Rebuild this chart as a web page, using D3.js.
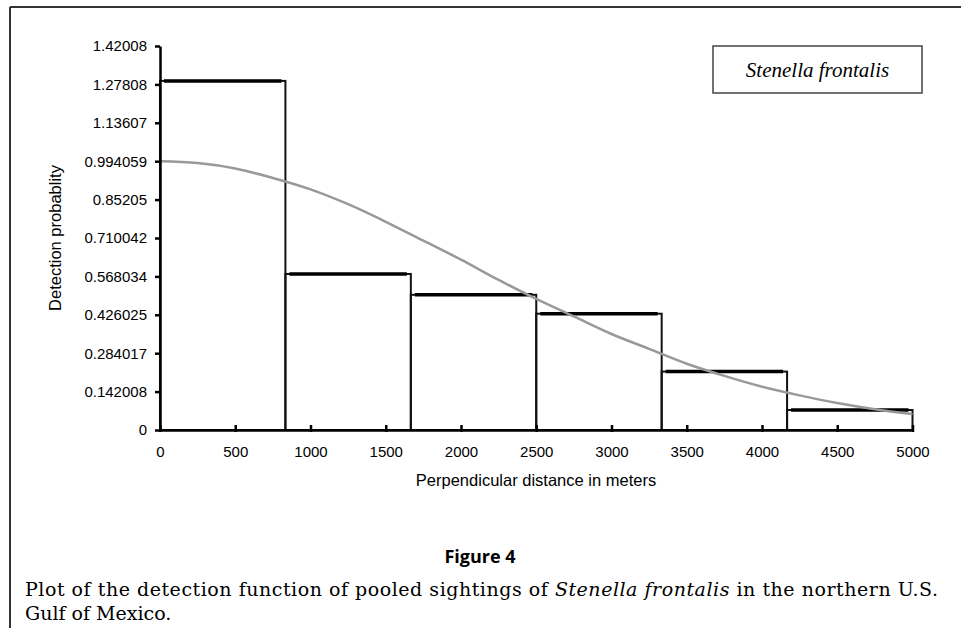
<!DOCTYPE html>
<html>
<head>
<meta charset="utf-8">
<script src="https://cdn.jsdelivr.net/npm/d3@7"></script>
<style>
  body { margin: 0; background: #fff; }
  svg { display: block; }
</style>
</head>
<body>
<div id="chart"></div>
<script>
var width = 961
var height = 628

// histogram bins (perpendicular distance, m) and scaled heights
var binEdges = [0, 833.33, 1666.67, 2500, 3333.33, 4166.67, 5000]
var binHeights = [1.291, 0.577, 0.500, 0.430, 0.216, 0.074]

// fitted detection function
var curveDist = [0, 250, 500, 750, 1000, 1250, 1500, 1750, 2000, 2250, 2500,
                 2750, 3000, 3250, 3500, 3750, 4000, 4250, 4500, 4750, 5000]
var curveProb = [0.994, 0.987, 0.967, 0.932, 0.89, 0.835, 0.77, 0.70, 0.63, 0.555, 0.485,
                 0.42, 0.355, 0.30, 0.245, 0.20, 0.16, 0.128, 0.10, 0.077, 0.059]

var yTickLabels = ["0", "0.142008", "0.284017", "0.426025", "0.568034", "0.710042",
                   "0.85205", "0.994059", "1.13607", "1.27808", "1.42008"]
var xTicks = [0, 500, 1000, 1500, 2000, 2500, 3000, 3500, 4000, 4500, 5000]

var x = d3.scaleLinear().domain([0, 5000]).range([160, 912.5])
var y = d3.scaleLinear().domain([0, 1.42008]).range([430, 46])

var svg = d3.select("#chart").append("svg")
    .attr("width", width).attr("height", height)

// page frame (top and left rule)
svg.append("line").attr("x1", 10).attr("y1", 7).attr("x2", width).attr("y2", 7)
    .attr("stroke", "#333").attr("stroke-width", 2)
svg.append("line").attr("x1", 10).attr("y1", 7).attr("x2", 10).attr("y2", height)
    .attr("stroke", "#333").attr("stroke-width", 2)

// bars
var bins = binHeights.map(function(h, i) { return {x0: binEdges[i], x1: binEdges[i + 1], h: h} })

svg.selectAll("rect.bar")
    .data(bins)
    .enter()
    .append("rect")
    .attr("class", "bar")
    .attr("x", function(d) { return x(d.x0) })
    .attr("y", function(d) { return y(d.h) })
    .attr("width", function(d) { return x(d.x1) - x(d.x0) })
    .attr("height", function(d) { return y(0) - y(d.h) })
    .attr("fill", "none")
    .attr("stroke", "#111")
    .attr("stroke-width", 2)

svg.selectAll("line.bartop")
    .data(bins)
    .enter()
    .append("line")
    .attr("class", "bartop")
    .attr("x1", function(d) { return x(d.x0) + 4 })
    .attr("x2", function(d) { return x(d.x1) - 4 })
    .attr("y1", function(d) { return y(d.h) })
    .attr("y2", function(d) { return y(d.h) })
    .attr("stroke", "#000")
    .attr("stroke-width", 3.5)

// detection curve
var pts = curveDist.map(function(d, i) { return [d, curveProb[i]] })
var line = d3.line()
    .x(function(d) { return x(d[0]) })
    .y(function(d) { return y(d[1]) })
    .curve(d3.curveMonotoneX)
svg.append("path")
    .datum(pts)
    .attr("d", line)
    .attr("fill", "none")
    .attr("stroke", "#999")
    .attr("stroke-width", 2.5)

// axes
var yAxis = d3.axisLeft(y)
    .tickValues(yTickLabels.map(Number))
    .tickFormat(function(d, i) { return yTickLabels[i] })
    .tickSize(5)
    .tickSizeOuter(0)
    .tickPadding(8)
var xAxis = d3.axisBottom(x)
    .tickValues(xTicks)
    .tickFormat(d3.format("d"))
    .tickSizeOuter(0)

var gy = svg.append("g")
    .attr("transform", "translate(160,0)")
    .call(yAxis)
var gx = svg.append("g")
    .attr("transform", "translate(0,430)")
    .call(xAxis)

svg.selectAll(".domain").attr("stroke", "#000").attr("stroke-width", 2.5)
svg.selectAll(".tick line").attr("stroke", "#000").attr("stroke-width", 2.5)
gx.selectAll(".tick line").attr("y1", -5).attr("y2", 2)
gx.selectAll(".tick text").attr("y", 16)
svg.selectAll(".tick text")
    .attr("font-family", "'Liberation Sans', Arial, sans-serif")
    .attr("font-size", 15)
    .attr("fill", "#000")

// axis titles
svg.append("text")
    .attr("x", 536).attr("y", 486)
    .attr("text-anchor", "middle")
    .attr("font-family", "'Liberation Sans', Arial, sans-serif")
    .attr("font-size", 16.5)
    .text("Perpendicular distance in meters")
svg.append("text")
    .attr("transform", "translate(61,238) rotate(-90)")
    .attr("text-anchor", "middle")
    .attr("font-family", "'Liberation Sans', Arial, sans-serif")
    .attr("font-size", 16.5)
    .text("Detection probablity")

// species label box
svg.append("rect")
    .attr("x", 713).attr("y", 46).attr("width", 209).attr("height", 47)
    .attr("fill", "#fff").attr("stroke", "#444").attr("stroke-width", 1.5)
svg.append("text")
    .attr("x", 817.5).attr("y", 77)
    .attr("text-anchor", "middle")
    .attr("font-family", "'Liberation Serif', 'Times New Roman', serif")
    .attr("font-style", "italic")
    .attr("font-size", 21)
    .text("Stenella frontalis")

// figure caption
svg.append("text")
    .attr("x", 480).attr("y", 563)
    .attr("text-anchor", "middle")
    .attr("font-family", "'Open Sans', sans-serif")
    .attr("font-weight", "bold")
    .attr("font-size", 18)
    .text("Figure 4")

var cap = svg.append("text")
    .attr("x", 25).attr("y", 596)
    .attr("font-family", "'DejaVu Serif', serif")
    .attr("font-size", 19)
    .attr("textLength", 913)
    .attr("lengthAdjust", "spacing")
cap.append("tspan").text("Plot of the detection function of pooled sightings of ")
cap.append("tspan").attr("font-style", "italic").text("Stenella frontalis")
cap.append("tspan").text(" in the northern U.S.")

svg.append("text")
    .attr("x", 25).attr("y", 620)
    .attr("font-family", "'DejaVu Serif', serif")
    .attr("font-size", 19)
    .text("Gulf of Mexico.")
</script>
</body>
</html>
